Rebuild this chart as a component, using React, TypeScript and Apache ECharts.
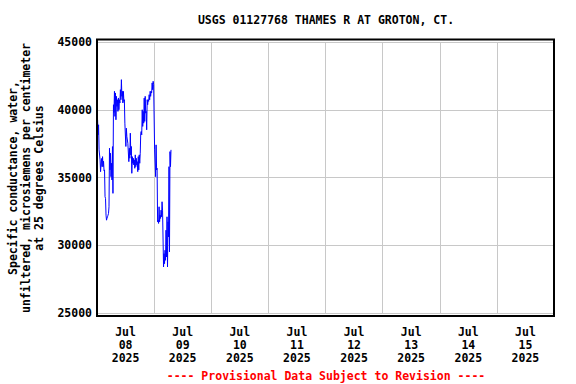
import React, { useEffect, useRef } from "react";
import * as echarts from "echarts";

const TITLE = "USGS 01127768 THAMES R AT GROTON, CT.";
const Y_NAME = "Specific conductance, water,\nunfiltered, microsiemens per centimeter\nat 25 degrees Celsius";
const FOOTER = "---- Provisional Data Subject to Revision ----";
const dayLabels = ["Jul\n08\n2025", "Jul\n09\n2025", "Jul\n10\n2025", "Jul\n11\n2025", "Jul\n12\n2025", "Jul\n13\n2025", "Jul\n14\n2025", "Jul\n15\n2025"];
const START_MS = Date.UTC(2025, 6, 8, 0, 15);
const STEP_MS = 12.5 * 60 * 1000;
const AXIS_MIN = Date.UTC(2025, 6, 8);
const AXIS_MAX = Date.UTC(2025, 6, 16);
const DAY_MS = 86400000;

const conductance = [
  39260, 38150,
  38890, 37040,
  37040, 36300,
  35430, 36000,
  36400, 35800,
  36540, 35800,
  36200, 35500,
  35560, 33580,
  33460, 32220,
  31850, 32000,
  32100, 32220,
  32350, 32840,
  37160, 35560,
  36790, 35060,
  36050, 34820,
  37280, 33830,
  40370, 39800,
  41360, 39510,
  41240, 39260,
  40990, 40250,
  40740, 39880,
  40870, 40000,
  40740, 40500,
  41480, 40740,
  42220, 40990,
  41360, 40500,
  41360, 40620,
  40740, 39010,
  39010, 37290,
  38640, 38030,
  38030, 37530,
  37530, 36170,
  37160, 36420,
  38270, 36670,
  37290, 35310,
  36540, 36050,
  36420, 35930,
  36300, 35680,
  36670, 35800,
  36420, 35930,
  36170, 35430,
  36540, 35560,
  36670, 36050,
  36790, 38270,
  38400, 38150,
  40000, 38770,
  39880, 39010,
  40860, 39140,
  40990, 39750,
  39880, 38520,
  40740, 40370,
  40740, 40620,
  41110, 40740,
  41360, 40990,
  41360, 41240,
  41980, 41480,
  42100, 41850,
  41850, 37040,
  37040, 35060,
  37410, 35560,
  35680, 31730,
  31850, 31610,
  32840, 31730,
  32220, 31980,
  32590, 32100,
  33210, 32590,
  32590, 28400,
  29380, 28640,
  29630, 28890,
  31110, 29140,
  32100, 28400,
  31730, 30620,
  35800, 29510,
  36910, 35800,
  37040,
];

const FONT = "'DejaVu Sans Mono', monospace";

export default function App() {
  const ref = useRef<HTMLDivElement>(null);
  useEffect(() => {
    if (!ref.current) return;
    const chart = echarts.init(ref.current, null, { renderer: "svg" });
    const data = conductance.map((v, i) => [START_MS + i * STEP_MS, v]);
    chart.setOption({
      animation: false,
      backgroundColor: "#ffffff",
      grid: { left: 97, right: 22, top: 42, bottom: 71, containLabel: false },
      xAxis: [
        {
          type: "value",
          min: AXIS_MIN,
          max: AXIS_MAX,
          interval: DAY_MS,
          axisLine: { show: false },
          axisTick: { show: false },
          axisLabel: { show: false },
          splitLine: { show: true, lineStyle: { color: "#c8c8c8", width: 1 } },
        },
        {
          type: "category",
          data: dayLabels,
          boundaryGap: true,
          position: "bottom",
          axisLine: { show: false },
          axisTick: { show: false },
          splitLine: { show: false },
          axisLabel: {
            margin: 12,
            fontFamily: FONT,
            fontWeight: "bold",
            fontSize: 11.5,
            lineHeight: 13,
            color: "#000",
            interval: 0,
          },
        },
      ],
      yAxis: {
        type: "value",
        min: 25000,
        max: 45000,
        interval: 5000,
        axisLine: { show: false },
        axisTick: { show: false },
        axisLabel: {
          margin: 5,
          fontFamily: FONT,
          fontWeight: "bold",
          fontSize: 11.5,
          color: "#000",
          formatter: (v: number) => String(v),
        },
        splitLine: { show: true, lineStyle: { color: "#c8c8c8", width: 1 } },
      },
      series: [
        {
          type: "line",
          xAxisIndex: 0,
          data,
          showSymbol: false,
          symbol: "none",
          lineStyle: { color: "#0000ff", width: 1 },
        },
      ],
      graphic: [
        {
          type: "rect",
          shape: { x: 97, y: 39.5, width: 457, height: 276.5 },
          style: { fill: "none", stroke: "#000", lineWidth: 2 },
          silent: true,
          z: 100,
        },
        {
          type: "text",
          x: 326,
          y: 20,
          style: {
            text: TITLE,
            fontFamily: FONT,
            fontWeight: "bold",
            fontSize: 11.5,
            fill: "#000",
            align: "center",
            verticalAlign: "middle",
          },
        },
        {
          type: "text",
          x: 26,
          y: 178,
          rotation: Math.PI / 2,
          style: {
            text: Y_NAME,
            fontFamily: FONT,
            fontWeight: "bold",
            fontSize: 11.5,
            lineHeight: 13,
            fill: "#000",
            align: "center",
            verticalAlign: "middle",
          },
        },
        {
          type: "text",
          x: 326,
          y: 376,
          style: {
            text: FOOTER,
            fontFamily: FONT,
            fontWeight: "bold",
            fontSize: 11.5,
            fill: "#ff0000",
            align: "center",
            verticalAlign: "middle",
          },
        },
      ],
    });
    return () => chart.dispose();
  }, []);
  return <div ref={ref} style={{ width: 576, height: 384, position: "absolute", left: 0, top: 0 }} />;
}
